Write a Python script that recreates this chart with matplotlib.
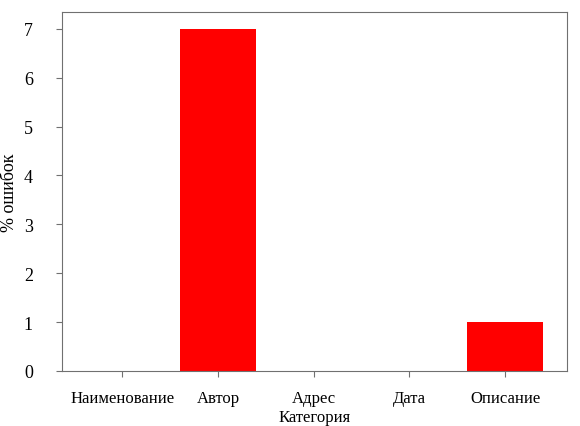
import matplotlib.pyplot as plt

categories = ['Наименование', 'Автор', 'Адрес', 'Дата', 'Описание']
errors = [0, 7, 0, 0, 1]

plt.rcParams['font.family'] = ['Liberation Serif', 'DejaVu Serif']
plt.rcParams['font.size'] = 11

fig = plt.figure(figsize=(5.8, 4.27), dpi=100)
ax = fig.add_axes([0.107, 0.129, 0.871, 0.841])

ax.bar(range(len(categories)), errors, width=0.8, color='#ff0000')
ax.set_xticks(range(len(categories)))
ax.set_xticklabels(categories)
ax.set_xlim(-0.63, 4.65)
ax.set_ylim(0, 7.35)
ax.set_yticks(range(8))

for s in ax.spines.values():
    s.set_color('#707070')
ax.tick_params(colors='#707070', labelcolor='black', length=4, labelsize=12)
ax.tick_params(axis='x', pad=10)
ax.tick_params(axis='y', labelsize=13, pad=17)

ax.set_xlabel('Категория', fontsize=12, labelpad=2)
ax.set_ylabel('% ошибок', fontsize=13, labelpad=4)

fig.savefig('out.png')
